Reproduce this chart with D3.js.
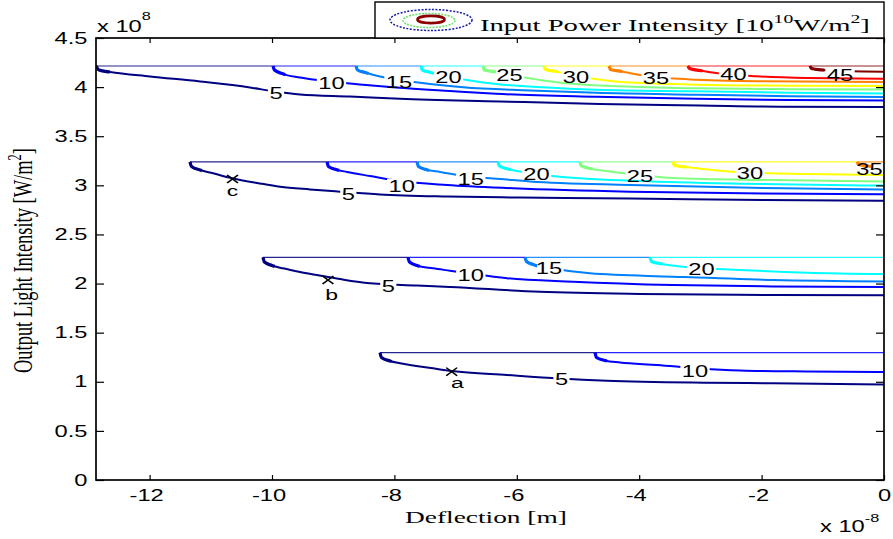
<!DOCTYPE html>
<html>
<head>
<meta charset="utf-8">
<script src="https://cdn.jsdelivr.net/npm/d3@7"></script>
<style>
  body { margin: 0; background: #fff; }
  svg { display: block; }
</style>
</head>
<body>
<svg id="chart" width="893" height="539"></svg>
<script>
// Contour levels of input power intensity (×10^10 W/m²)
const levels = [5, 10, 15, 20, 25, 30, 35, 40, 45];
const xTicks = [-12, -10, -8, -6, -4, -2, 0];
const yTicks = [0, 0.5, 1, 1.5, 2, 2.5, 3, 3.5, 4, 4.5];

// Contour lines per band: [level, [[deflection ×1e-8 m, output intensity ×1e8 W/m²], ...]]
const band1 = [
  [5,  [[-12.876,4.215],[-12.827,4.174],[-12.647,4.154],[-11.993,4.108],[-11.176,4.057],[-10.359,3.996],[-9.951,3.955],[-9.542,3.925],[-8.725,3.904],[-7.908,3.881],[-6.275,3.854],[-4.641,3.828],[-3.007,3.813],[-1.699,3.800],[0,3.798]]],
  [10, [[-9.984,4.215],[-9.959,4.174],[-9.837,4.138],[-9.542,4.098],[-9.052,4.057],[-8.513,4.025],[-7.974,3.996],[-7.092,3.960],[-6.340,3.932],[-4.706,3.901],[-3.072,3.881],[-1.536,3.869],[0,3.864]]],
  [15, [[-8.627,4.215],[-8.603,4.174],[-8.480,4.149],[-8.235,4.108],[-7.974,4.078],[-7.418,4.032],[-6.879,3.998],[-5.784,3.966],[-4.706,3.942],[-3.072,3.923],[-1.536,3.907],[0,3.899]]],
  [20, [[-7.565,4.215],[-7.541,4.174],[-7.435,4.154],[-7.173,4.113],[-6.765,4.068],[-6.340,4.032],[-5.523,3.996],[-4.706,3.974],[-3.072,3.957],[-1.536,3.943],[0,3.935]]],
  [25, [[-6.552,4.215],[-6.528,4.174],[-6.340,4.154],[-6.029,4.113],[-5.621,4.073],[-5.245,4.042],[-4.314,4.008],[-3.072,3.988],[-1.536,3.979],[0,3.976]]],
  [30, [[-5.556,4.215],[-5.531,4.179],[-5.359,4.159],[-5.049,4.118],[-4.722,4.083],[-4.428,4.059],[-3.824,4.039],[-3.072,4.025],[-1.536,4.015],[0,4.011]]],
  [35, [[-4.493,4.215],[-4.469,4.179],[-4.281,4.159],[-3.987,4.123],[-3.497,4.090],[-3.072,4.076],[-2.075,4.059],[0,4.052]]],
  [40, [[-3.203,4.215],[-3.178,4.189],[-3.007,4.169],[-2.680,4.138],[-2.075,4.110],[-1.258,4.093],[0,4.086]]],
  [45, [[-1.209,4.215],[-1.185,4.189],[-0.997,4.174],[-0.556,4.161],[0,4.157]]]
];
const band2 = [
  [5,  [[-11.340,3.238],[-11.315,3.192],[-11.176,3.156],[-10.964,3.123],[-10.670,3.075],[-10.196,3.019],[-9.869,2.986],[-9.379,2.958],[-8.889,2.935],[-8.235,2.907],[-7.141,2.886],[-5.948,2.876],[-4.150,2.866],[-1.977,2.851],[0,2.844]]],
  [10, [[-9.101,3.238],[-9.077,3.192],[-8.954,3.161],[-8.775,3.136],[-8.399,3.095],[-7.908,3.044],[-7.141,3.003],[-6.062,2.970],[-4.150,2.935],[-1.977,2.917],[0,2.910]]],
  [15, [[-7.631,3.238],[-7.606,3.192],[-7.484,3.161],[-7.255,3.136],[-6.846,3.095],[-6.062,3.054],[-5.784,3.039],[-4.150,3.003],[-1.977,2.973],[0,2.958]]],
  [20, [[-6.307,3.238],[-6.283,3.197],[-6.144,3.166],[-5.948,3.141],[-5.343,3.090],[-3.987,3.044],[-2.353,3.016],[0,2.998]]],
  [25, [[-4.967,3.238],[-4.943,3.197],[-4.804,3.171],[-4.477,3.141],[-3.987,3.105],[-3.448,3.075],[-1.814,3.054],[0,3.039]]],
  [30, [[-3.448,3.238],[-3.423,3.202],[-3.170,3.182],[-2.794,3.156],[-2.402,3.136],[-1.258,3.115],[0,3.105]]],
  [35, [[-0.441,3.238],[-0.417,3.212],[-0.261,3.197],[0,3.187]]]
];
const band3 = [
  [5,  [[-10.147,2.267],[-10.123,2.219],[-10.000,2.184],[-9.820,2.155],[-9.542,2.118],[-9.265,2.087],[-8.889,2.046],[-8.448,2.006],[-7.631,1.980],[-7.092,1.965],[-5.621,1.917],[-3.987,1.894],[-1.814,1.883],[0,1.880]]],
  [10, [[-7.778,2.267],[-7.753,2.219],[-7.631,2.184],[-7.369,2.155],[-7.092,2.131],[-6.765,2.102],[-6.160,2.054],[-5.082,2.019],[-3.448,1.985],[-1.814,1.970],[0,1.965]]],
  [15, [[-5.866,2.267],[-5.842,2.225],[-5.735,2.194],[-5.458,2.158],[-4.804,2.104],[-3.448,2.070],[-1.814,2.036],[0,2.021]]],
  [20, [[-3.824,2.267],[-3.799,2.225],[-3.627,2.199],[-3.333,2.174],[-2.353,2.138],[-1.258,2.111],[0,2.097]]]
];
const band4 = [
  [5,  [[-8.235,1.296],[-8.211,1.247],[-8.072,1.212],[-7.908,1.188],[-7.369,1.137],[-7.059,1.110],[-6.160,1.069],[-5.294,1.033],[-4.526,1.011],[-2.892,0.991],[-1.814,0.985],[0,0.972]]],
  [10, [[-4.722,1.296],[-4.698,1.247],[-4.559,1.217],[-4.314,1.196],[-3.709,1.171],[-3.007,1.135],[-2.353,1.115],[-1.258,1.105],[0,1.100]]]
];

// Inline contour labels: [level, x, y]
const band1Labels = [[5,-9.935,3.940],[10,-9.028,4.040],[15,-7.925,4.052],[20,-7.116,4.096],[25,-6.119,4.123],[30,-5.033,4.096],[35,-3.725,4.090],[40,-2.459,4.130],[45,-0.719,4.123]];
const band2Labels = [[5,-8.753,2.912],[10,-7.881,2.993],[15,-6.752,3.064],[20,-5.678,3.115],[25,-3.987,3.088],[30,-2.190,3.123],[35,-0.237,3.166]];
const band3Labels = [[5,-8.100,1.968],[10,-6.752,2.087],[15,-5.474,2.155],[20,-2.982,2.146]];
const band4Labels = [[5,-5.270,1.026],[10,-3.088,1.112]];

// Marked operating points
const markers = [["c", -10.645, 3.065], ["b", -9.085, 2.036], ["a", -7.064, 1.103]];

const bands = [band1, band2, band3, band4];
const bandLabels = [band1Labels, band2Labels, band3Labels, band4Labels];

// ---------- layout ----------
const svg = d3.select("#chart");
const W = 893, H = 539;
const plot = { left: 96, right: 884, top: 38, bottom: 480 };
const SANS = '"Liberation Sans", Arial, Helvetica, sans-serif';
const SERIF = '"Liberation Serif", "Times New Roman", Times, serif';
const SX = 1.48; // wide glyph aspect of the figure's lettering

svg.append("rect").attr("width", W).attr("height", H).attr("fill", "#fff");

const x = d3.scaleLinear().domain([-12.876, 0]).range([plot.left, plot.right]);
const y = d3.scaleLinear().domain([0, 4.5]).range([plot.bottom, plot.top]);

// MATLAB-style jet colormap over the contour levels
function jet(level) {
  const t = (level - levels[0]) / (levels[levels.length - 1] - levels[0]);
  const c = v => Math.max(0, Math.min(1, v));
  return d3.rgb(255 * c(1.5 - Math.abs(4 * t - 3)),
                255 * c(1.5 - Math.abs(4 * t - 2)),
                255 * c(1.5 - Math.abs(4 * t - 1))).formatHex();
}

const defs = svg.append("defs");
defs.append("clipPath").attr("id", "plotClip")
  .append("rect")
  .attr("x", plot.left).attr("y", plot.top)
  .attr("width", plot.right - plot.left).attr("height", plot.bottom - plot.top);

const gTop = svg.append("g").attr("clip-path", "url(#plotClip)");
const gLines = svg.append("g").attr("clip-path", "url(#plotClip)");
const gLabels = svg.append("g");
const gMarks = svg.append("g");

// upper edge of each band, coloured by the highest level reached along it
bands.forEach(band => {
  const topY = band[0][1][0][1];
  const starts = band.map(([lev, pts]) => [lev, pts[0][0]]).sort((a, b) => a[1] - b[1]);
  starts.forEach(([lev, sx], i) => {
    const ex = i < starts.length - 1 ? starts[i + 1][1] : x.domain()[1];
    gTop.append("line")
      .attr("x1", x(sx)).attr("x2", x(ex))
      .attr("y1", y(topY)).attr("y2", y(topY))
      .attr("stroke", jet(lev)).attr("stroke-width", 1.2).attr("opacity", 0.85);
  });
});

// labels first, so each labelled contour can get a gap where its label sits
const gaps = {};
bandLabels.forEach((labels, bi) => {
  labels.forEach(([lev, lx, ly]) => {
    const cx = x(lx), cy = y(ly);
    const t = gLabels.append("text")
      .attr("transform", `translate(${cx},${cy}) scale(${SX},1)`)
      .attr("text-anchor", "middle")
      .attr("dy", "0.36em")
      .style("font-family", SANS).style("font-size", "16px")
      .attr("fill", "#000")
      .text(lev);
    const bb = t.node().getBBox();
    gaps[`${bi}_${lev}`] = { x: cx + bb.x * SX - 1.5, y: cy - 7.5, w: bb.width * SX + 3, h: 15 };
  });
});

Object.entries(gaps).forEach(([key, r]) => {
  const m = defs.append("mask").attr("id", `gap_${key}`)
    .attr("maskUnits", "userSpaceOnUse")
    .attr("x", 0).attr("y", 0).attr("width", W).attr("height", H);
  m.append("rect").attr("x", 0).attr("y", 0).attr("width", W).attr("height", H).attr("fill", "#fff");
  m.append("rect").attr("x", r.x).attr("y", r.y).attr("width", r.w).attr("height", r.h).attr("fill", "#000");
});

const line = d3.line().x(d => x(d[0])).y(d => y(d[1])).curve(d3.curveMonotoneX);

bands.forEach((band, bi) => {
  band.forEach(([lev, pts]) => {
    const key = `${bi}_${lev}`;
    const p = gLines.append("path")
      .datum(pts)
      .attr("d", line)
      .attr("fill", "none")
      .attr("stroke", jet(lev))
      .attr("stroke-width", 2)
      .attr("stroke-linejoin", "round");
    if (gaps[key]) p.attr("mask", `url(#gap_${key})`);
    // heavier stroke along the turning hook at the start of each line
    gLines.append("path")
      .datum(pts)
      .attr("d", line)
      .attr("fill", "none")
      .attr("stroke", jet(lev))
      .attr("stroke-width", 3.2)
      .attr("stroke-dasharray", "16 4000");
  });
});

// operating point markers (x) with their letters
const letterOffset = { c: [0, 16.7], b: [3.7, 20], a: [5.8, 16.3] };
const cross = d3.symbol().type(d3.symbolX).size(44);
markers.forEach(([name, mx, my]) => {
  const px = x(mx), py = y(my);
  gMarks.append("path")
    .attr("d", cross())
    .attr("transform", `translate(${px},${py}) scale(1.35,1)`)
    .attr("fill", "none").attr("stroke", "#000").attr("stroke-width", 1.3);
  const [dx, dy] = letterOffset[name];
  gMarks.append("text")
    .attr("transform", `translate(${px + dx},${py + dy}) scale(${SX},1)`)
    .attr("text-anchor", "middle")
    .style("font-family", SANS).style("font-size", "15.5px")
    .text(name);
});

// ---------- axes ----------
const fmt = d => String(d);

const axB = svg.append("g").attr("transform", `translate(0,${plot.bottom})`)
  .call(d3.axisBottom(x).tickValues(xTicks).tickFormat(fmt).tickSize(-5).tickPadding(10));
const axL = svg.append("g").attr("transform", `translate(${plot.left},0)`)
  .call(d3.axisLeft(y).tickValues(yTicks).tickFormat(fmt).tickSize(-8).tickPadding(8));
const axT = svg.append("g").attr("transform", `translate(0,${plot.top})`)
  .call(d3.axisTop(x).tickValues(xTicks).tickFormat("").tickSize(-5));
const axR = svg.append("g").attr("transform", `translate(${plot.right},0)`)
  .call(d3.axisRight(y).tickValues(yTicks).tickFormat("").tickSize(-8));

[axB, axL, axT, axR].forEach(a => {
  a.select(".domain").remove();
  a.selectAll(".tick line").attr("stroke", "#000").attr("stroke-width", 1.2);
});

axB.selectAll(".tick text")
  .attr("fill", "#000")
  .style("font-family", SANS).style("font-size", "16px")
  .attr("x", d => (d < 0 ? -3.5 : 0) / SX)
  .attr("transform", `scale(${SX},1)`);

axL.selectAll(".tick text")
  .attr("fill", "#000")
  .style("font-family", SANS).style("font-size", "16px")
  .attr("x", -8.5 / SX)
  .attr("transform", `scale(${SX},1)`);

svg.append("rect")
  .attr("x", plot.left).attr("y", plot.top)
  .attr("width", plot.right - plot.left).attr("height", plot.bottom - plot.top)
  .attr("fill", "none").attr("stroke", "#000").attr("stroke-width", 1.7);

// axis multipliers
const mulTop = svg.append("text")
  .attr("transform", `translate(97,31.7) scale(${SX},1)`)
  .style("font-family", SANS).style("font-size", "16px");
mulTop.append("tspan").text("x 10");
mulTop.append("tspan").attr("dy", -11.5).style("font-size", "11px").text("8");

const mulBot = svg.append("text")
  .attr("transform", `translate(820,531.7) scale(${SX},1)`)
  .style("font-family", SANS).style("font-size", "16px");
mulBot.append("tspan").text("x 10");
mulBot.append("tspan").attr("dy", -10).style("font-size", "11px").text("-8");

// axis titles
const xTitle = svg.append("text")
  .style("font-family", SERIF).style("font-size", "17.5px")
  .text("Deflection [m]");
{
  const w = xTitle.node().getBBox().width;
  xTitle.attr("transform", `translate(405,523) scale(${162 / w},1)`);
}

const yTitle = svg.append("text")
  .style("font-family", SERIF).style("font-size", "18px");
yTitle.append("tspan").text("Output Light Intensity [W/m");
yTitle.append("tspan").attr("dy", -7).style("font-size", "12px").text("2");
yTitle.append("tspan").attr("dy", 7).text("]");
{
  const w = yTitle.node().getBBox().width;
  yTitle.attr("transform", `translate(31.5,373) rotate(-90) scale(${225 / w},1.5)`);
}

// ---------- legend ----------
const leg = svg.append("g");
leg.append("rect")
  .attr("x", 375).attr("y", 2).attr("width", 509).attr("height", 36)
  .attr("fill", "#fff").attr("stroke", "#000").attr("stroke-width", 1.4);
leg.append("ellipse").attr("cx", 431).attr("cy", 20).attr("rx", 41).attr("ry", 10.5)
  .attr("fill", "none").attr("stroke", "#1a1aa8").attr("stroke-width", 1.5).attr("stroke-dasharray", "2,1.5");
leg.append("ellipse").attr("cx", 429).attr("cy", 20.5).attr("rx", 26).attr("ry", 7)
  .attr("fill", "none").attr("stroke", "#70e070").attr("stroke-width", 1.6).attr("stroke-dasharray", "2,1.2");
leg.append("ellipse").attr("cx", 431).attr("cy", 19.5).attr("rx", 13.5).attr("ry", 3.6)
  .attr("fill", "none").attr("stroke", "#8b0000").attr("stroke-width", 2.6);

const legText = leg.append("text")
  .style("font-family", SERIF).style("font-size", "17.5px");
legText.append("tspan").text("Input Power Intensity [10");
legText.append("tspan").attr("dy", -7.5).style("font-size", "12px").text("10");
legText.append("tspan").attr("dy", 7.5).text("W/m");
legText.append("tspan").attr("dy", -7.5).style("font-size", "12px").text("2");
legText.append("tspan").attr("dy", 7.5).text("]");
{
  const w = legText.node().getBBox().width;
  legText.attr("transform", `translate(480,30.5) scale(${390 / w},1)`);
}
</script>
</body>
</html>
